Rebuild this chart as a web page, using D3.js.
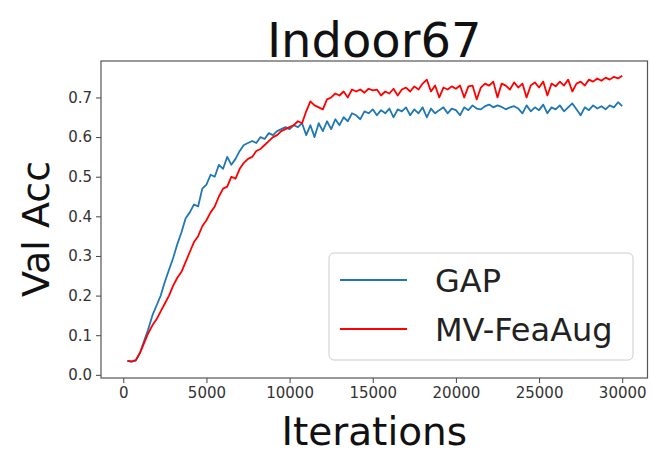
<!DOCTYPE html>
<html>
<head>
<meta charset="utf-8">
<script src="https://cdn.jsdelivr.net/npm/d3@7"></script>
<style>
  body { margin: 0; background: #fff; }
  svg { font-family: "DejaVu Sans", sans-serif; }
</style>
</head>
<body>
<div id="chart"></div>
<script>
// iterations are sampled every 250 steps, 250 .. 30000
var iterStep = 250;
var seriesNames = ['GAP', 'MV-FeaAug'];
var seriesColors = ['#1f77b4', '#ff0000'];
var xTicks = [0, 5000, 10000, 15000, 20000, 25000, 30000];
var yTicks = [0.0, 0.1, 0.2, 0.3, 0.4, 0.5, 0.6, 0.7];

var gapAcc = [
  0.035, 0.033, 0.036, 0.055, 0.085, 0.115, 0.150, 0.175, 0.200, 0.235,
  0.265, 0.295, 0.330, 0.360, 0.395, 0.410, 0.430, 0.425, 0.470, 0.480,
  0.505, 0.500, 0.530, 0.520, 0.550, 0.530, 0.545, 0.565, 0.580, 0.585,
  0.590, 0.585, 0.600, 0.595, 0.610, 0.605, 0.615, 0.620, 0.625, 0.620,
  0.630, 0.625, 0.635, 0.605, 0.630, 0.600, 0.635, 0.615, 0.640, 0.620,
  0.645, 0.630, 0.650, 0.640, 0.660, 0.655, 0.645, 0.665, 0.660, 0.670,
  0.655, 0.668, 0.660, 0.672, 0.650, 0.670, 0.665, 0.675, 0.655, 0.670,
  0.660, 0.675, 0.650, 0.672, 0.660, 0.668, 0.675, 0.660, 0.672, 0.668,
  0.655, 0.675, 0.668, 0.680, 0.672, 0.670, 0.678, 0.682, 0.675, 0.680,
  0.676, 0.670, 0.675, 0.678, 0.672, 0.660, 0.680, 0.665, 0.675, 0.668,
  0.682, 0.660, 0.675, 0.670, 0.680, 0.665, 0.675, 0.685, 0.670, 0.655,
  0.675, 0.668, 0.680, 0.672, 0.678, 0.670, 0.680, 0.675, 0.688, 0.678
];
var mvAcc = [
  0.035, 0.034, 0.037, 0.055, 0.080, 0.105, 0.125, 0.140, 0.160, 0.180,
  0.200, 0.225, 0.245, 0.260, 0.285, 0.310, 0.335, 0.350, 0.375, 0.390,
  0.410, 0.425, 0.450, 0.470, 0.475, 0.500, 0.495, 0.520, 0.535, 0.545,
  0.550, 0.565, 0.570, 0.580, 0.590, 0.600, 0.605, 0.615, 0.620, 0.625,
  0.630, 0.640, 0.635, 0.665, 0.690, 0.680, 0.675, 0.670, 0.695, 0.700,
  0.710, 0.705, 0.715, 0.700, 0.720, 0.715, 0.720, 0.712, 0.722, 0.718,
  0.720, 0.705, 0.715, 0.710, 0.722, 0.705, 0.720, 0.725, 0.715, 0.728,
  0.720, 0.735, 0.745, 0.715, 0.730, 0.700, 0.725, 0.720, 0.728, 0.722,
  0.730, 0.700, 0.728, 0.730, 0.695, 0.725, 0.735, 0.730, 0.740, 0.700,
  0.735, 0.730, 0.720, 0.738, 0.725, 0.735, 0.700, 0.730, 0.738, 0.725,
  0.740, 0.705, 0.735, 0.728, 0.740, 0.730, 0.745, 0.715, 0.735, 0.740,
  0.730, 0.745, 0.740, 0.748, 0.742, 0.750, 0.745, 0.752, 0.748, 0.755
];

var W = 651, H = 454;
var margin = { top: 61, right: 3.5, bottom: 76, left: 101 };
var plotW = W - margin.left - margin.right;
var plotH = H - margin.top - margin.bottom;

var svg = d3.select('#chart').append('svg')
  .attr('width', W)
  .attr('height', H);

var xScale = d3.scaleLinear().domain([-1340, 31520]).range([0, plotW]);
var yScale = d3.scaleLinear().domain([-0.008, 0.792]).range([plotH, 0]);

var g = svg.append('g')
  .attr('transform', 'translate(' + margin.left + ',' + margin.top + ')');

// axes
var xAxis = g.append('g')
  .attr('transform', 'translate(0,' + plotH + ')')
  .call(d3.axisBottom(xScale).tickValues(xTicks).tickFormat(d3.format('d')).tickSizeOuter(0).tickSize(5).tickPadding(4));
var yAxis = g.append('g')
  .call(d3.axisLeft(yScale).tickValues(yTicks).tickFormat(d3.format('.1f')).tickSizeOuter(0).tickSize(5).tickPadding(4));

[xAxis, yAxis].forEach(function (ax) {
  ax.select('.domain').remove();
  ax.selectAll('line').attr('stroke', '#444').attr('stroke-width', 1);
  ax.selectAll('text').attr('font-size', 15).attr('fill', '#333')
    .attr('font-family', '"DejaVu Sans", sans-serif');
});

// lines
var line = d3.line()
  .x(function (d, i) { return xScale((i + 1) * iterStep); })
  .y(function (d) { return yScale(d); });

[gapAcc, mvAcc].forEach(function (vals, i) {
  g.append('path')
    .datum(vals)
    .attr('fill', 'none')
    .attr('stroke', seriesColors[i])
    .attr('stroke-width', 1.8)
    .attr('stroke-linejoin', 'round')
    .attr('d', line);
});

// frame
g.append('rect')
  .attr('width', plotW).attr('height', plotH)
  .attr('fill', 'none').attr('stroke', '#555').attr('stroke-width', 1.2);

// legend
var leg = svg.append('g').attr('transform', 'translate(329,253)');
leg.append('rect')
  .attr('width', 304).attr('height', 107).attr('rx', 5)
  .attr('fill', '#fff').attr('fill-opacity', 0.8)
  .attr('stroke', '#ccc').attr('stroke-width', 1);
seriesNames.forEach(function (name, i) {
  var yy = 27 + i * 49;
  leg.append('line')
    .attr('x1', 11).attr('x2', 78).attr('y1', yy).attr('y2', yy)
    .attr('stroke', seriesColors[i]).attr('stroke-width', 2.2);
  leg.append('text')
    .attr('x', 106).attr('y', yy + 11.5)
    .attr('font-size', 32).attr('fill', '#222')
    .text(name);
});

// title and axis labels
svg.append('text')
  .attr('x', margin.left + plotW / 2).attr('y', 57)
  .attr('text-anchor', 'middle').attr('font-size', 48).attr('fill', '#111')
  .text('Indoor67');
svg.append('text')
  .attr('x', margin.left + plotW / 2).attr('y', 445)
  .attr('text-anchor', 'middle').attr('font-size', 39).attr('fill', '#111')
  .text('Iterations');
svg.append('text')
  .attr('transform', 'translate(49,229) rotate(-90)')
  .attr('text-anchor', 'middle').attr('font-size', 38).attr('fill', '#111')
  .text('Val Acc');
</script>
</body>
</html>
